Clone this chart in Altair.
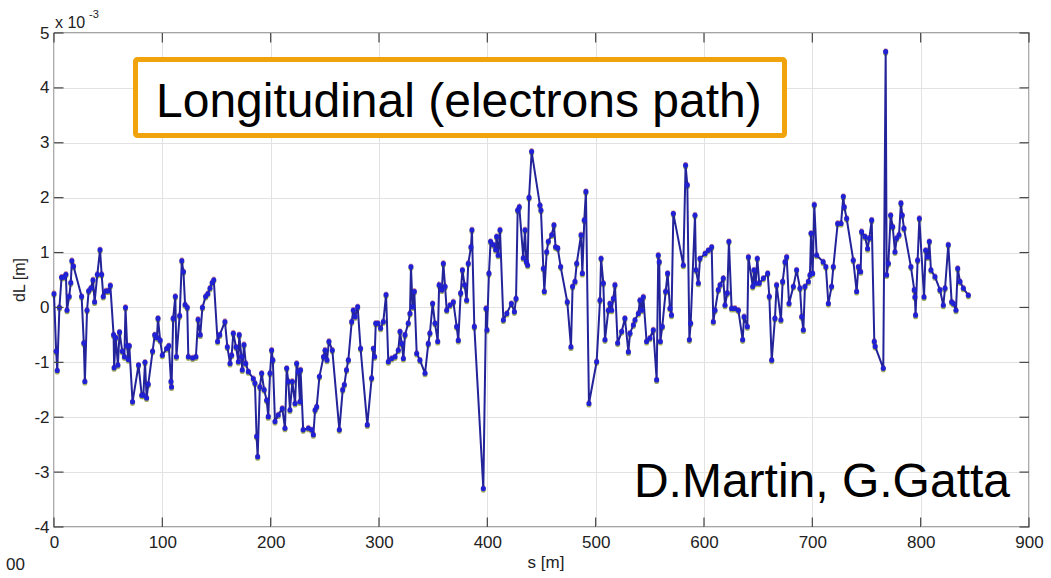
import altair as alt
import pandas as pd

# s [m] positions and dL values (in units of 1e-3 m)
s_vals = [
    0, 2, 3, 5, 7, 9, 11, 12, 14, 15.5, 16.5, 18, 25.5, 27.5, 28.5, 30.5, 32, 34, 36, 37.5,
    40, 42.5, 44, 45.5, 48, 50, 52, 55, 55.5, 57, 59, 60.5, 63, 65, 66, 67.5, 68.5, 69.5,
    72.5, 78, 81, 82.5, 84, 85.5, 87, 91, 93, 95, 96, 98, 100, 104, 106, 108, 108.5, 110,
    112, 113, 116, 118, 119.5, 121, 123, 124, 128, 131, 133, 135, 137, 140, 142, 144, 146,
    147.5, 151, 153, 157.8, 160, 162.5, 164, 165.5, 168, 170.2, 171, 173, 173.8, 175.4, 177,
    179.4, 184, 185.5, 187, 188, 190, 191.7, 194, 196.3, 197.8, 199.4, 200.9, 202, 204, 207,
    210.7, 213.2, 214.8, 216.3, 217.8, 220, 222.5, 224, 225.5, 227, 227.6, 230, 234.8, 237.8,
    239.4, 241, 242.5, 245, 248.8, 250.2, 252, 253.8, 256.9, 263.4, 266.5, 268, 270, 271.7,
    274.8, 276.3, 277.9, 280.3, 283, 289.2, 293.2, 294.8, 296, 297, 299, 301.5, 304, 306.5,
    308.6, 311.7, 314.8, 317.8, 319.4, 321, 322.5, 324, 327, 328.6, 329.5, 331, 332.6, 334.8,
    337.8, 342.5, 345.5, 347, 349.5, 351.7, 354.2, 355.5, 358, 359.4, 361, 362.5, 365.5, 368.6,
    371.7, 373.2, 375.4, 377, 379, 380.9, 382.4, 384.9, 385.8, 388, 396.3, 398.8, 399.7, 401.5,
    403, 405.5, 407.7, 408.6, 410, 411.7, 414.8, 418, 422.2, 425, 426.5, 428, 429.5, 433.2,
    434.8, 436, 437.2, 438.5, 440.9, 448.6, 449.5, 451.7, 452.6, 454.8, 456.3, 459.4, 461.5,
    463, 465, 467.7, 473.8, 477.2, 478.7, 480.9, 482.5, 486.5, 487.7, 489.5, 491, 493.8, 500.9,
    504, 505, 507.1, 508.6, 511.7, 513.2, 514.8, 516.3, 517.8, 520.3, 524, 527, 530.2, 531.7,
    534.8, 536.3, 539.4, 540.9, 542.5, 544, 547, 550, 553.2, 556.3, 557.8, 558.7, 559.7, 561.5,
    564.6, 566.4, 568.6, 570, 571.7, 580.9, 583, 584.6, 586.5, 587.7, 591.7, 592.6, 594.8,
    596.3, 601, 604, 607.1, 608.6, 610.2, 613.2, 614.8, 617.8, 619.4, 621.5, 623, 625.5, 628.6,
    631.7, 635.7, 637, 640, 641, 645, 646.2, 647.7, 649.2, 651, 654.8, 658.8, 660.3, 662.5,
    665.5, 667, 671, 672.6, 674.8, 676.3, 678.5, 682.5, 685.5, 688.6, 690.2, 691.7, 693.2,
    696.3, 697.8, 698.8, 700.3, 701.8, 704, 710, 712.5, 714.8, 717.8, 719.4, 723.4, 726.5,
    728.6, 729.5, 731.7, 737.8, 740.9, 742.5, 744.6, 745.5, 748.6, 751, 752.6, 754.8, 757.2,
    758, 765.5, 767.7, 768.6, 770.2, 772.3, 774.2, 776.3, 777.9, 780, 781.8, 783, 784.6, 791,
    794.1, 794.7, 795.3, 797.2, 798.8, 803.1, 804.6, 806.5, 808, 809.5, 813.2, 817.8, 820.9,
    822.5, 825.5, 828.6, 830.2, 832.6, 834.2, 836.3, 839.4, 844,
]
dl_vals = [
    0.25, -0.8, -1.15, 0.0, 0.55, 0.55, 0.6, -0.05, 0.2, 0.45, 0.85, 0.75, 0.2, -0.65, -1.35, -0.05, 0.3, 0.35, 0.5, 0.1,
    0.6, 1.05, 0.6, 0.2, 0.3, 0.3, 0.4, -0.5, -1.1, -0.55, -1.05, -0.45, -0.8, -0.9, 0.0, -0.7, -0.95, -0.7,
    -1.72, -1.05, -1.6, -1.6, -1.0, -1.65, -1.4, -0.8, -0.5, -0.55, -0.2, -0.6, -0.87, -0.75, -0.7, -1.35, -1.45, -0.2,
    0.2, -0.9, -0.15, 0.85, 0.65, 0.05, 0.0, -0.9, -0.92, -0.9, -0.22, -0.5, 0.0, 0.2, 0.25, 0.35, 0.45,
    0.5, -0.62, -0.5, -0.26, -0.72, -1.02, -0.87, -0.47, -0.72, -0.99, -0.5, -0.9, -1.14, -0.68, -1.02,
    -1.17, -1.3, -1.38, -2.35, -2.72, -1.45, -1.2, -1.5, -1.69, -1.99, -1.2, -0.78, -0.96, -2.08, -1.96,
    -1.84, -2.2, -1.11, -1.35, -1.87, -1.35, -1.75, -1.02, -1.17, -1.72, -1.14, -2.23, -2.2, -2.23,
    -2.32, -1.87, -1.81, -1.26, -0.9, -0.78, -0.96, -0.62, -0.78, -2.23, -1.5, -1.41, -1.14, -0.96,
    -0.26, -0.05, -0.17, 0.01, -0.75, -2.14, -1.29, -0.75, -0.9, -0.29, -0.29, -0.38, -0.26, 0.23,
    -0.99, -0.93, -0.9, -0.78, -0.44, -0.66, -0.93, -0.5, -0.29, -0.11, 0.74, 0.01, 0.29, -0.84,
    -0.96, -1.2, -0.66, -0.47, 0.07, -0.29, -0.62, 0.41, 0.32, 0.8, 0.38, -0.05, 0.04, 0.1,
    -0.35, -0.6, 0.26, 0.68, 0.41, 0.13, 0.8, 1.1, 1.41, -0.35, -3.3, -0.02, -0.41, 0.62,
    1.2, 1.14, 1.05, 1.29, 0.95, 1.41, -0.23, -0.11, 0.07, -0.08, 0.16, 1.77, 1.83, 0.9,
    1.41, 0.83, 0.77, 2.0, 2.84, 1.86, 1.77, 0.71, 0.29, 1.01, 1.2, 1.32, 1.5,
    1.1, 1.08, 0.74, 0.1, -0.72, 0.38, 0.47, 0.8, 1.32, 0.62, 1.59, 2.11, -1.75, -0.99,
    0.13, 0.89, 0.44, -0.59, -0.05, 0.07, -0.05, 0.16, 0.41, -0.65, -0.44, -0.2, -0.81, -0.47,
    -0.32, -0.23, -0.11, 0.13, -0.05, 0.19, -0.62, -0.56, -0.41, -1.32, 0.95, 0.83, -0.62, -0.35,
    0.29, 0.62, -0.02, -0.14, 1.71, 0.77, 2.59, 2.23, -0.59, -0.29, 1.68, 0.68, 0.44,
    0.89, 0.98, 1.04, 1.1, -0.26, -0.05, 0.32, 0.41, 0.53, 0.04, 0.26, 1.2, -0.02, -0.02,
    -0.05, -0.59, -0.17, -0.35, 0.92, 0.38, 0.68, 0.44, 0.89, 0.44, 0.53, 0.62, 0.2, -0.96,
    -0.2, 0.41, -0.23, 0.47, 0.83, 0.92, 0.07, 0.38, 0.68, 0.35, -0.17, -0.41, 0.38,
    0.47, 0.59, 1.35, 0.62, 1.87, 0.95, 0.83, 0.74, 0.07, 0.38, 0.74, 1.53, 1.53,
    2.02, 1.83, 1.62, 0.86, 0.29, 0.74, 0.65, 1.38, 1.29, 1.07, 1.26, 1.59, -0.62,
    -0.71, -1.11, 4.66, 0.59, 0.8, 1.68, 1.47, 1.01, 1.26, 1.32, 1.9, 1.68, 1.44, 0.74,
    0.32, 0.19, -0.14, 0.86, 1.62, 0.19, 1.04, 0.92, 1.2, 0.68, 0.56, 0.32, 0.04,
    0.35, 1.14, 0.1, 0.07, -0.05, 0.71, 0.47, 0.35, 0.22,
]

x_ticks = [0, 100, 200, 300, 400, 500, 600, 700, 800, 900]
y_ticks = [-4, -3, -2, -1, 0, 1, 2, 3, 4, 5]

title_text = "Longitudinal (electrons path)"
credit_text = "D.Martin, G.Gatta"
x_title = "s [m]"
y_title = "dL [m]"
exp_base = "x 10"
exp_power = "-3"
stray_label = "00"

FONT = "Liberation Sans"

df = pd.DataFrame({"s": s_vals, "dL": dl_vals})

xs = alt.Scale(domain=[0, 900], nice=False, zero=False)
ys = alt.Scale(domain=[-4, 5], nice=False, zero=False)

x_axis = alt.Axis(values=x_ticks, title=None, domain=False, ticks=False, grid=True,
                  gridColor="#e2e2e2", gridWidth=1, labelFont=FONT, labelFontSize=17,
                  labelColor="#222222", labelPadding=7, labelFlush=False,
                  labelExpr="toString(datum.value)")
y_axis = alt.Axis(values=y_ticks, title=None, domain=False, ticks=False, grid=True,
                  gridColor="#e2e2e2", gridWidth=1, labelFont=FONT, labelFontSize=17,
                  labelColor="#222222", labelPadding=5, labelFlush=False,
                  labelExpr="toString(datum.value)")

base = alt.Chart(df)

fringe = base.mark_point(filled=True, size=26, color="#8c9a3a", opacity=0.8, yOffset=1.5).encode(
    x=alt.X("s:Q", scale=xs, axis=x_axis),
    y=alt.Y("dL:Q", scale=ys, axis=y_axis),
)
fringe2 = base.mark_point(filled=True, size=20, color="#b04060", opacity=0.6, yOffset=-1.2).encode(
    x="s:Q", y="dL:Q")
line = base.mark_line(color="#23239a", strokeWidth=2).encode(x="s:Q", y="dL:Q")
points = base.mark_point(filled=True, size=26, color="#2020d4", opacity=1).encode(x="s:Q", y="dL:Q")

# inward tick marks derived from the tick values
tx = 975 / 900.0
tick_rows = []
for v in x_ticks:
    tick_rows.append({"x": v, "x2": v, "y": -4, "y2": -4 + 9.5 / 54.9})
    tick_rows.append({"x": v, "x2": v, "y": 5, "y2": 5 - 9.5 / 54.9})
for w in y_ticks:
    tick_rows.append({"x": 0, "x2": 9.5 / tx, "y": w, "y2": w})
    tick_rows.append({"x": 900, "x2": 900 - 9.5 / tx, "y": w, "y2": w})
ticks = alt.Chart(pd.DataFrame(tick_rows)).mark_rule(color="#444444", strokeWidth=1.2).encode(
    x="x:Q", x2="x2:Q", y="y:Q", y2="y2:Q")

one = pd.DataFrame({"a": [1]})
box = alt.Chart(one).mark_rect(fill="white", stroke="#f0a30c", strokeWidth=5, cornerRadius=2).encode(
    x=alt.value(81.5), x2=alt.value(730.5), y=alt.value(26.5), y2=alt.value(102.5))

box_text = alt.Chart(pd.DataFrame({"t": [title_text]})).mark_text(
    font=FONT, fontSize=48, align="left", baseline="alphabetic", color="black").encode(
    text="t:N", x=alt.value(102), y=alt.value(84))

credit = alt.Chart(pd.DataFrame({"t": [credit_text]})).mark_text(
    font=FONT, fontSize=48, align="right", baseline="alphabetic", color="black").encode(
    text="t:N", x=alt.value(956), y=alt.value(464))

xt = alt.Chart(pd.DataFrame({"t": [x_title]})).mark_text(
    font=FONT, fontSize=17, align="center", baseline="middle", color="#222222").encode(
    text="t:N", x=alt.value(492), y=alt.value(530))

yt = alt.Chart(pd.DataFrame({"t": [y_title]})).mark_text(
    font=FONT, fontSize=16, align="center", baseline="middle", angle=270, color="#222222").encode(
    text="t:N", x=alt.value(-34), y=alt.value(247))

eb = alt.Chart(pd.DataFrame({"t": [exp_base]})).mark_text(
    font=FONT, fontSize=16, align="left", baseline="alphabetic", color="#222222").encode(
    text="t:N", x=alt.value(1), y=alt.value(-5))

ep = alt.Chart(pd.DataFrame({"t": [exp_power]})).mark_text(
    font=FONT, fontSize=11, align="left", baseline="alphabetic", color="#222222").encode(
    text="t:N", x=alt.value(35), y=alt.value(-15))

stray = alt.Chart(pd.DataFrame({"t": [stray_label]})).mark_text(
    font=FONT, fontSize=17, align="right", baseline="middle", color="#222222").encode(
    text="t:N", x=alt.value(-29), y=alt.value(532))

chart = alt.layer(
    fringe, fringe2, line, points, box, box_text, credit, ticks, xt, yt, eb, ep, stray
).properties(
    width=975, height=494,
    autosize=alt.AutoSizeParams(type="none"),
    padding={"left": 54, "top": 33, "right": 22, "bottom": 51},
    background="white",
).configure_view(stroke="#4a4a4a", strokeWidth=1.3)

chart.save("out.html", embed_options={"renderer": "svg", "actions": False})
